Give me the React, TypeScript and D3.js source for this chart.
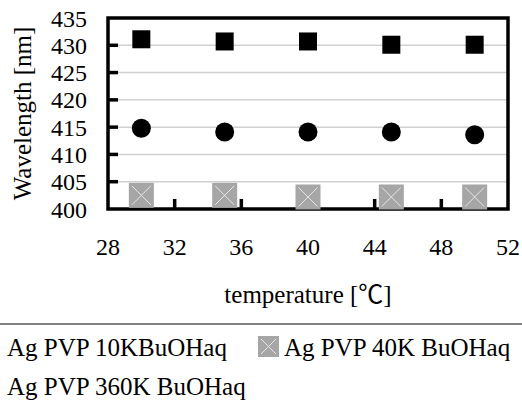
import React from 'react';
import * as d3 from 'd3';

// temperature [°C] of each measurement
const temps = [30, 35, 40, 45, 50];
// peak wavelength [nm] per sample
const pvp10k = [431.1, 430.7, 430.7, 430.1, 430.1];
const pvp40k = [402.5, 402.5, 402.2, 402.2, 402.2];
const pvp360k = [414.8, 414.1, 414.1, 414.1, 413.6];

const xTicks = [28, 32, 36, 40, 44, 48, 52];
const yTicks = [400, 405, 410, 415, 420, 425, 430, 435];

const FONT = '"Liberation Serif", "Noto Sans CJK JP"';

const W = 522;
const H = 403;
const plot = { left: 108, right: 508, top: 18, bottom: 209 };

const x = d3.scaleLinear().domain([28, 52]).range([plot.left, plot.right]);
const y = d3.scaleLinear().domain([400, 435]).range([plot.bottom, plot.top]);

// grey box with a light cross, used for the 40K series
const CrossBox = ({ cx, cy, s }: { cx: number; cy: number; s: number }) => {
  const k = s / 2 - 3;
  return (
    <g>
      <rect x={cx - s / 2} y={cy - s / 2} width={s} height={s} fill="#a6a6a6" />
      <path
        d={`M${cx - k},${cy - k}L${cx + k},${cy + k}M${cx + k},${cy - k}L${cx - k},${cy + k}`}
        stroke="#e6e6e6"
        strokeWidth={1}
      />
    </g>
  );
};

const App = () => {
  const inner = yTicks.filter(t => t > 400 && t < 435);
  const innerX = xTicks.filter(t => t > 28 && t < 52);

  return (
    <svg
      width={W}
      height={H}
      style={{ position: 'absolute', left: 0, top: 0, background: '#fff', fontFamily: FONT }}
    >
      {/* gridlines */}
      {inner.map(t => (
        <line key={`g${t}`} x1={plot.left} x2={plot.right} y1={y(t)} y2={y(t)} stroke="#d0d0d0" strokeWidth={1.5} />
      ))}
      {/* inward ticks */}
      {inner.map(t => (
        <line key={`yt${t}`} x1={plot.left} x2={plot.left + 10} y1={y(t)} y2={y(t)} stroke="#000" strokeWidth={3.5} />
      ))}
      {innerX.map(t => (
        <line key={`xt${t}`} x1={x(t)} x2={x(t)} y1={plot.bottom} y2={plot.bottom - 10} stroke="#000" strokeWidth={3.5} />
      ))}
      {/* frame */}
      <rect
        x={plot.left}
        y={plot.top}
        width={plot.right - plot.left}
        height={plot.bottom - plot.top}
        fill="none"
        stroke="#000"
        strokeWidth={3.5}
      />

      {/* tick labels */}
      {yTicks.map(t => (
        <text key={`yl${t}`} x={87} y={y(t) + 8.5} textAnchor="end" fontSize={24}>
          {t}
        </text>
      ))}
      {xTicks.map(t => (
        <text key={`xl${t}`} x={x(t)} y={255} textAnchor="middle" fontSize={24}>
          {t}
        </text>
      ))}

      {/* axis titles */}
      <text
        transform={`translate(31,${(plot.top + plot.bottom) / 2}) rotate(-90)`}
        textAnchor="middle"
        fontSize={25}
      >
        Wavelength [nm]
      </text>
      <text x={(plot.left + plot.right) / 2} y={303} textAnchor="middle" fontSize={25}>
        temperature [℃]
      </text>

      {/* markers */}
      {temps.map((t, i) => (
        <g key={`m${t}`}>
          <rect x={x(t) - 9} y={y(pvp10k[i]) - 9} width={18} height={18} fill="#000" />
          <circle cx={x(t)} cy={y(pvp360k[i])} r={9.5} fill="#000" />
          <CrossBox cx={x(t)} cy={y(pvp40k[i])} s={25} />
        </g>
      ))}

      {/* legend */}
      <line x1={0} x2={W} y1={324} y2={324} stroke="#808080" strokeWidth={2} />
      <g fontSize={25}>
        <text x={7} y={356}>Ag PVP 10KBuOHaq</text>
        <CrossBox cx={268.5} cy={346.5} s={21} />
        <text x={284} y={356}>Ag PVP 40K BuOHaq</text>
        <text x={7} y={395}>Ag PVP 360K BuOHaq</text>
      </g>
    </svg>
  );
};

export default App;
